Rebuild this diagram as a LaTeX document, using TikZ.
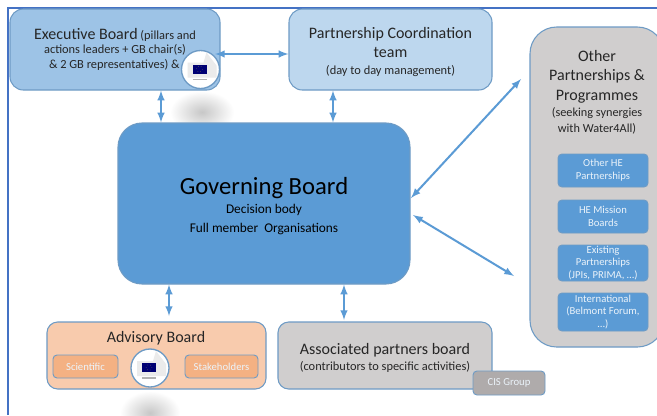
\documentclass[tikz,border=0pt]{standalone}
\usepackage{fontspec}
\setmainfont{Carlito}
\usetikzlibrary{%
   arrows,%
   positioning%
}
\definecolor{frameblue}{HTML}{4472C4}
\definecolor{linkblue}{HTML}{5B9BD5}
\definecolor{edgeblue}{HTML}{6E9BC5}
\definecolor{execfill}{HTML}{9DC3E6}
\definecolor{teamfill}{HTML}{BDD7EE}
\definecolor{advfill}{HTML}{F8CBAD}
\definecolor{advinner}{HTML}{F4B183}
\definecolor{greyfill}{HTML}{D0CECE}
\definecolor{cisfill}{HTML}{AFABAB}
\definecolor{inktext}{HTML}{262626}
\newcommand{\bigline}[1]{{\fontsize{12}{15}\selectfont #1}}

\begin{document}
\begin{tikzpicture}[x=0.75pt,y=-0.75pt,board/.style={
	rectangle,
	draw=edgeblue,
	line width=0.8pt,
	inner sep=0pt,
	align=center,
	text=inktext,
	font=\fontsize{9.3}{11.5}\selectfont
	},innerbox/.style={
	rectangle,rounded corners=3pt,
	draw=edgeblue,line width=0.7pt,
	inner sep=0pt,align=center,
	text=white!88!linkblue,
	font=\fontsize{8}{9.6}\selectfont
	},logo/.style={
	circle,minimum size=28.5pt,inner sep=0pt,
	draw=edgeblue,line width=1pt,fill=white
	},link/.style={
	<->,>=latex,line width=1.5pt,draw=linkblue
	}
]

\path[clip] (0,0) rectangle (657,415);
\fill[white] (0,0) rectangle (657,415);

% shadows under the logos
\shade[inner color=black!22,outer color=white] (202,112) ellipse (32 and 21);
\shade[inner color=black!22,outer color=white] (150,413) ellipse (30 and 22);

\draw[frameblue,line width=1.5pt] (8,415) -- (8,8) -- (657,8);

% top row
\node (execb) [board,rounded corners=10pt,fill=execfill,minimum width=157.5pt,minimum height=60.75pt] at (115,49.5) {\raisebox{-1pt}{\bigline{Executive Board}} \raisebox{-1pt}{(pillars and}\\ actions leaders + GB chair(s)\\ \& 2 GB representatives) \&\hspace*{1pt}};
\node (pcteam) [board,rounded corners=10pt,fill=teamfill,minimum width=152.25pt,minimum height=60.75pt] at (390.5,49.5) {\rule{0pt}{12pt}\bigline{Partnership Coordination}\\[3pt] \bigline{team}\\[1pt] (day to day management)};

% middle
\node (govb) [board,rounded corners=18pt,fill=linkblue,minimum width=219pt,minimum height=120.75pt] at (264,203.5) {};
\node (govtext) [text=black,align=center,font=\fontsize{10}{14}\selectfont] at (264,206) {{\fontsize{18.5}{20}\selectfont Governing Board}\\ Decision body\\ Full member\ \ Organisations};

% other partnerships
\node (otherb) [board,rounded corners=20pt,fill=greyfill,minimum width=100.5pt,minimum height=240pt] at (597,187) {};
\node (othertext) [text=inktext,align=center,font=\fontsize{9.2}{11.5}\selectfont] at (597,92) {\bigline{Other}\\[3pt] \bigline{Partnerships \&}\\[3pt] \bigline{Programmes}\\[1pt] (seeking synergies\\ with Water4All)};
\node (heother) [innerbox,fill=linkblue,minimum width=67.5pt,minimum height=24.75pt] at (603,170.5) {Other HE\\ Partnerships};
\node (hemission) [innerbox,fill=linkblue,minimum width=67.5pt,minimum height=24.75pt] at (603,216.5) {HE Mission\\ Boards};
\node (existing) [innerbox,fill=linkblue,minimum width=67.5pt,minimum height=27pt] at (603,263) {Existing\\ Partnerships\\ (JPIs, PRIMA, …)};
\node (intern) [innerbox,fill=linkblue,minimum width=67.5pt,minimum height=28.5pt] at (603,312) {International\\ (Belmont Forum,\\ …)};

% bottom row
\node (advb) [board,rounded corners=8pt,fill=advfill,minimum width=164.25pt,minimum height=50.25pt] at (156.5,355.5) {};
\node (advtext) [text=inktext] at (156,338) {\bigline{Advisory Board}};
\node (sci) [innerbox,fill=advinner,minimum width=48.75pt,minimum height=17.25pt] at (85.5,366.5) {Scientific};
\node (stake) [innerbox,fill=advinner,minimum width=54.75pt,minimum height=17.25pt] at (221.5,366.5) {Stakeholders};
\node (assocb) [board,rounded corners=8pt,fill=greyfill,minimum width=160.5pt,minimum height=50.25pt] at (385,355.5) {\rule{0pt}{12pt}\bigline{Associated partners board}\\[1pt] (contributors to specific activities)};
\node (cis) [innerbox,fill=cisfill,minimum width=54pt,minimum height=18pt] at (509,383) {CIS Group};

% logos
\node (logoexec) [logo] at (200.5,69.5) {};
\node (logoadv) [logo] at (150,368) {};
\foreach \where in {logoexec,logoadv} {
	\begin{scope}[shift={(\where)}]
	\fill[black!8] (-13,-7) -- (3,-7) -- (6,-17) -- (16,-4) -- (16,8) -- (-13,8) -- cycle;
	\fill[blue!45!black] (-8,-5) rectangle (6,4);
	\draw[yellow!70!black,line width=0.3pt,dotted] (-1,-0.5) circle (3);
	\draw[black!30,line width=0.8pt] (-8,10) -- (6,10);
	\end{scope}
}

% connector ends
\coordinate (posA) at (161,100);
\coordinate (posB) at (215,54);
\coordinate (posC) at (333,100);
\coordinate (posD) at (169,300);
\coordinate (posE) at (344,300);
\coordinate (posF) at (521,79);
\coordinate (posG) at (411,198);
\coordinate (posH) at (413,215);
\coordinate (posI) at (514,276);
\coordinate (posJ) at (169,316);
\coordinate (posK) at (344,320);

\draw[link] (posB) -- (pcteam.west |- posB);
\draw[link] (execb.south -| posA) -- (govb.north -| posA);
\draw[link] (pcteam.south -| posC) -- (govb.north -| posC);
\draw[link] (govb.south -| posD) -- (posJ);
\draw[link] (govb.south -| posE) -- (posK);
\draw[link] (posG) -- (posF);
\draw[link] (posH) -- (posI);

\end{tikzpicture}
\end{document}
